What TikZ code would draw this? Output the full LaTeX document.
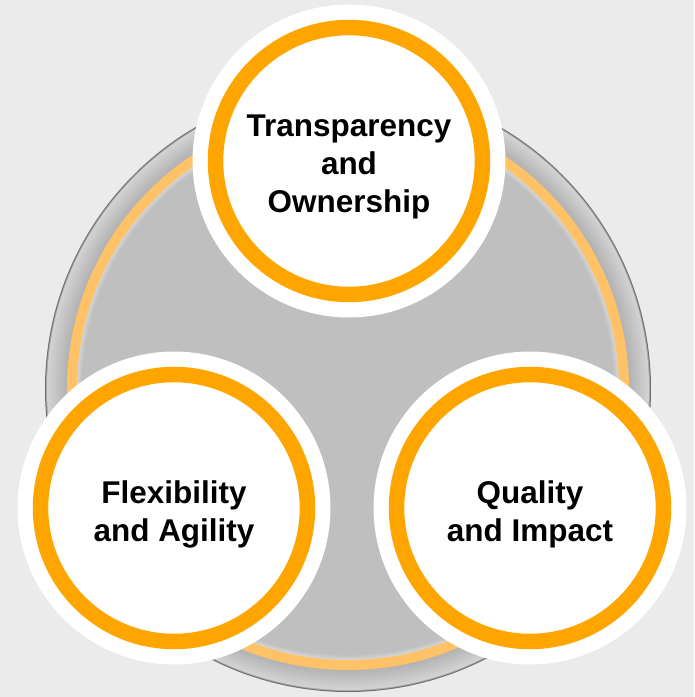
\documentclass[tikz,border=0pt]{standalone}
\usepackage{fontspec}
\setmainfont{Liberation Sans}

\definecolor{pagebg}{HTML}{EBEBEB}
\definecolor{discgray}{HTML}{BFBFBF}
\definecolor{rimdark}{HTML}{6E6E6E}
\definecolor{rimhi}{HTML}{D4D4D4}
\definecolor{rimlo}{HTML}{B4B4B4}
\definecolor{ringsoft}{HTML}{FFC266}
\definecolor{ringgold}{HTML}{FFA500}

\begin{document}
\begin{tikzpicture}[x=0.02cm, y=-0.02cm,
    caption/.style={align=center, inner sep=0pt,
        font=\fontsize{17.9}{21.6}\selectfont\bfseries},
    pillar/.style={circle, fill=white, draw=ringgold, line width=0.31cm,
        minimum size=5.34cm, inner sep=0pt,
        preaction={draw=white, line width=0.92cm},
        label={[caption, yshift=-0.12cm]center:#1}}]
    % Background
    \fill[pagebg] (0,0) rectangle (694,697);
    \coordinate (hub) at (348,389);

    % Bevelled rim of the large disc
    \fill[rimdark] (hub) circle (303);
    \fill[rimdark!45!rimhi] (hub) circle (302);
    \foreach \r in {301,300.5,...,282}{
        \pgfmathtruncatemacro{\p}{(\r-282)/19*100}
        \fill[rimhi!\p!rimlo] (hub) circle (\r);
    }

    % Soft orange band and inner face
    \fill[ringsoft] (hub) circle (281);
    \foreach \r in {271,270,...,266}{
        \pgfmathtruncatemacro{\p}{(\r-266)/5*100}
        \fill[rimhi!\p!discgray] (hub) circle (\r);
    }
    \fill[discgray] (hub) circle (265.5);

    % The three values
    \node[pillar={Transparency\\and\\Ownership}] (trust) at (349,161) {};
    \node[pillar={Flexibility\\and Agility}] (agile) at (174,508) {};
    \node[pillar={Quality\\and Impact}] (impact) at (530,508) {};
\end{tikzpicture}
\end{document}
